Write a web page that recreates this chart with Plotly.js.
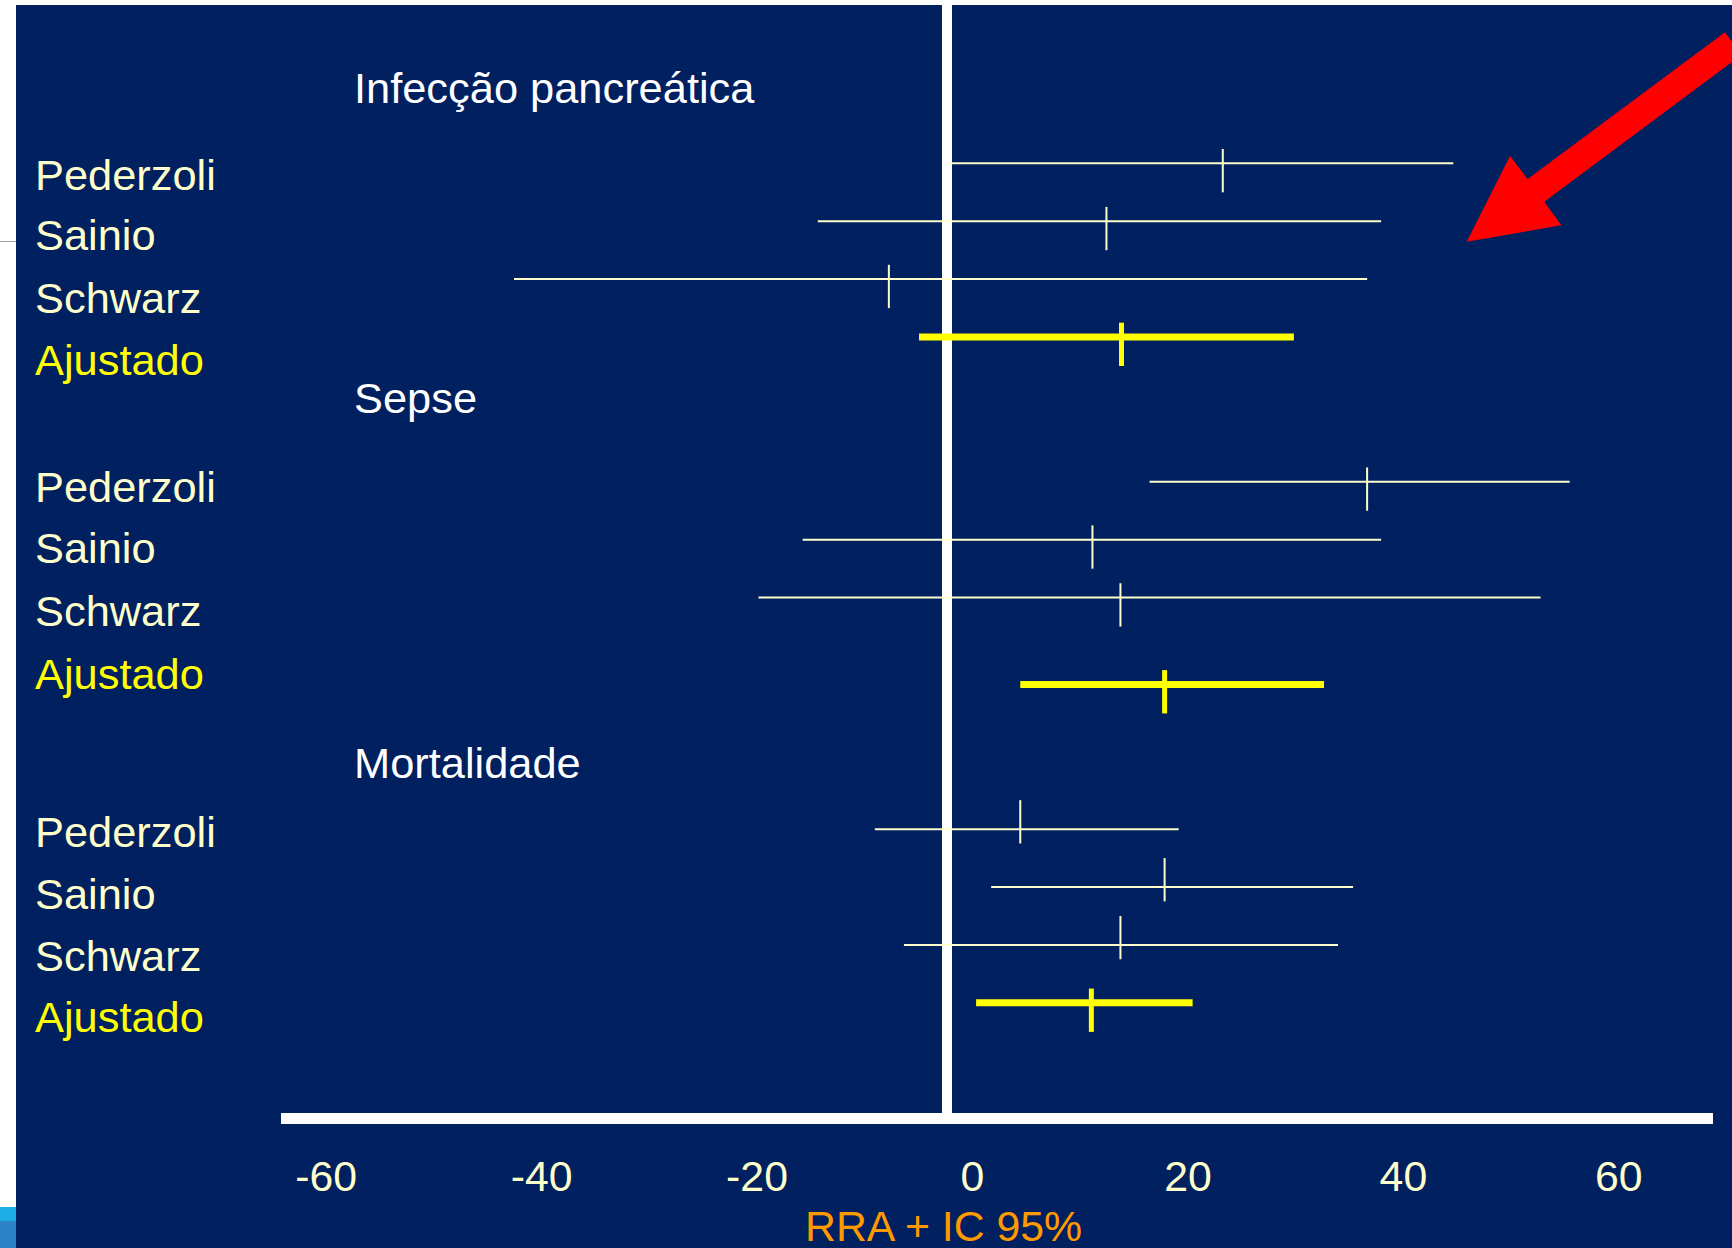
<!DOCTYPE html>
<html>
<head>
<meta charset="utf-8">
<script src="https://cdn.plot.ly/plotly-3.0.1.min.js"></script>
<style>
  html, body { margin: 0; padding: 0; background: #ffffff; width: 1732px; height: 1248px; overflow: hidden; }
  #chart { position: absolute; left: 16px; top: 5px; width: 1716px; height: 1243px; }
  .edge { position: absolute; left: 0; width: 16px; }
</style>
</head>
<body>
<div class="edge" style="top:241px;height:1px;background:#a6a6a6;"></div>
<div class="edge" style="top:1207px;height:14px;background:#1badE3;"></div>
<div class="edge" style="top:1221px;height:27px;background:#2d82c8;"></div>
<div id="chart"></div>
<script>
// ---------------- DATA ----------------
const outcomes = ['Infecção pancreática', 'Sepse', 'Mortalidade'];
const studies = ['Pederzoli', 'Sainio', 'Schwarz', 'Ajustado'];

// RRA (%) point estimate and 95% CI, order: Pederzoli, Sainio, Schwarz, Ajustado
const rraInfeccao  = [25.6, 14.8, -5.4, 16.2];
const lowInfeccao  = [0.0, -12.0, -40.2, -2.6];
const highInfeccao = [47.0, 40.3, 39.0, 32.2];

const rraSepse  = [39.0, 13.5, 16.1, 20.2];
const lowSepse  = [18.8, -13.4, -17.5, 6.8];
const highSepse = [57.8, 40.3, 55.1, 35.0];

const rraMortalidade  = [6.8, 20.2, 16.1, 13.4];
const lowMortalidade  = [-6.7, 4.1, -4.0, 2.7];
const highMortalidade = [21.5, 37.7, 36.3, 22.8];

const tickValues = [-60, -40, -20, 0, 20, 40, 60];
const tickLabels = ['-60', '-40', '-20', '0', '20', '40', '60'];
const axisTitle = 'RRA + IC 95%';

// ---------------- LAYOUT ----------------
const W = 1716, H = 1243, ML = 265, MR = 19, MT = 0, MB = 135;
const PW = W - ML - MR, PH = H - MT - MB;
const OX = 16, OY = 5; // page offset of chart div
function px(xf) { return (xf - OX - ML) / PW; }
function py(yf) { return 1 - (yf - OY - MT) / PH; }

const NAVY = '#002060', CREAM = '#FFFFCC', YELLOW = '#FFFF00', WHITE = '#FFFFFF', ORANGE = '#FF9900';
const FONT = '"Liberation Sans", Arial, sans-serif';
const FS = 42.8;      // tick labels / axis title
const FS_LAB = 43.4;  // row labels and outcome titles

// row slots (vertical placement of each row)
const rowSlot = [[0, 1, 2, 3], [5.5, 6.5, 7.5, 9], [11.5, 12.5, 13.5, 14.5]];
const SHORT = 0.247, LONG = 0.501;
// tick extent above / below line for thin study rows per outcome
const studyTickUp = [SHORT, SHORT, LONG];
const studyTickDown = [LONG, LONG, SHORT];

const est = [rraInfeccao, rraSepse, rraMortalidade];
const lo = [lowInfeccao, lowSepse, lowMortalidade];
const hi = [highInfeccao, highSepse, highMortalidade];

function makeTrace(isPooled) {
  const t = { x: [], y: [], ex: [], exm: [], ey: [], eym: [] };
  for (let g = 0; g < outcomes.length; g++) {
    for (let i = 0; i < studies.length; i++) {
      const pooled = studies[i] === 'Ajustado';
      if (pooled !== isPooled) continue;
      t.x.push(est[g][i]);
      t.y.push(rowSlot[g][i]);
      t.ex.push(hi[g][i] - est[g][i]);
      t.exm.push(est[g][i] - lo[g][i]);
      t.ey.push(pooled ? LONG : studyTickDown[g]);
      t.eym.push(pooled ? SHORT : studyTickUp[g]);
    }
  }
  const col = isPooled ? YELLOW : CREAM;
  return {
    type: 'scatter', mode: 'markers', x: t.x, y: t.y,
    marker: { size: 1, color: 'rgba(0,0,0,0)' },
    hoverinfo: 'skip', showlegend: false,
    error_x: { type: 'data', symmetric: false, array: t.ex, arrayminus: t.exm,
               width: 0, thickness: isPooled ? 7 : 2, color: col },
    error_y: { type: 'data', symmetric: false, array: t.ey, arrayminus: t.eym,
               width: 0, thickness: isPooled ? 5 : 2, color: col }
  };
}

// empty helper trace so the tick-label axis (x2) gets drawn
const axisTrace = { type: 'scatter', mode: 'markers', x: [], y: [], xaxis: 'x2', yaxis: 'y',
                    hoverinfo: 'skip', showlegend: false };

const traces = [makeTrace(false), makeTrace(true), axisTrace];

// text labels
const labelY = [[175.5, 235.3, 297.5, 360.3], [487, 547.5, 610.8, 674.2], [832, 893.8, 955.8, 1017]];
const titleY = [87.7, 398.3, 762.8];
const annotations = [];
for (let g = 0; g < outcomes.length; g++) {
  annotations.push({
    xref: 'paper', yref: 'paper', x: px(352), y: py(titleY[g]),
    xanchor: 'left', yanchor: 'middle', showarrow: false,
    text: outcomes[g], font: { family: FONT, size: FS_LAB, color: WHITE }
  });
  for (let i = 0; i < studies.length; i++) {
    annotations.push({
      xref: 'paper', yref: 'paper', x: px(33), y: py(labelY[g][i]),
      xanchor: 'left', yanchor: 'middle', showarrow: false,
      text: studies[i],
      font: { family: FONT, size: FS_LAB, color: studies[i] === 'Ajustado' ? YELLOW : CREAM }
    });
  }
}
annotations.push({
  xref: 'paper', yref: 'paper', x: px(943), y: py(1226),
  xanchor: 'center', yanchor: 'middle', showarrow: false,
  text: axisTitle, font: { family: FONT, size: FS, color: ORANGE }
});

// red arrow (decoration), full-page pixel points
const arrowPts = [[1466.7, 241.7], [1510, 156], [1527.7, 179], [1725, 32.3],
                  [1741.6, 54.8], [1544.3, 201.7], [1561.3, 225.3]];
const arrowPath = arrowPts.map((p, k) => (k ? 'L' : 'M') + px(p[0]).toFixed(5) + ',' + py(p[1]).toFixed(5)).join(' ') + ' Z';

const layout = {
  width: W, height: H,
  margin: { l: ML, r: MR, t: MT, b: MB, pad: 0 },
  paper_bgcolor: NAVY, plot_bgcolor: NAVY,
  showlegend: false,
  xaxis: {
    range: [-61.83, 71.11], showgrid: false, showticklabels: false, ticks: '',
    zeroline: true, zerolinecolor: WHITE, zerolinewidth: 10,
    showline: true, linecolor: WHITE, linewidth: 11, fixedrange: true
  },
  xaxis2: {
    overlaying: 'x', anchor: 'y', side: 'bottom',
    range: [-64.19, 68.74], showgrid: false, zeroline: false, showline: false,
    ticks: '', tickmode: 'array', tickvals: tickValues, ticktext: tickLabels,
    tickfont: { family: FONT, size: FS, color: CREAM }, ticklabelstandoff: 34, fixedrange: true
  },
  yaxis: {
    range: [16.402, -2.734], showgrid: false, zeroline: false, showline: false,
    showticklabels: false, ticks: '', fixedrange: true
  },
  annotations: annotations,
  shapes: [{
    type: 'path', xref: 'paper', yref: 'paper', path: arrowPath,
    fillcolor: '#FF0000', line: { width: 0 }, layer: 'above'
  }]
};

Plotly.newPlot('chart', traces, layout, { displayModeBar: false, staticPlot: true });
</script>
</body>
</html>
